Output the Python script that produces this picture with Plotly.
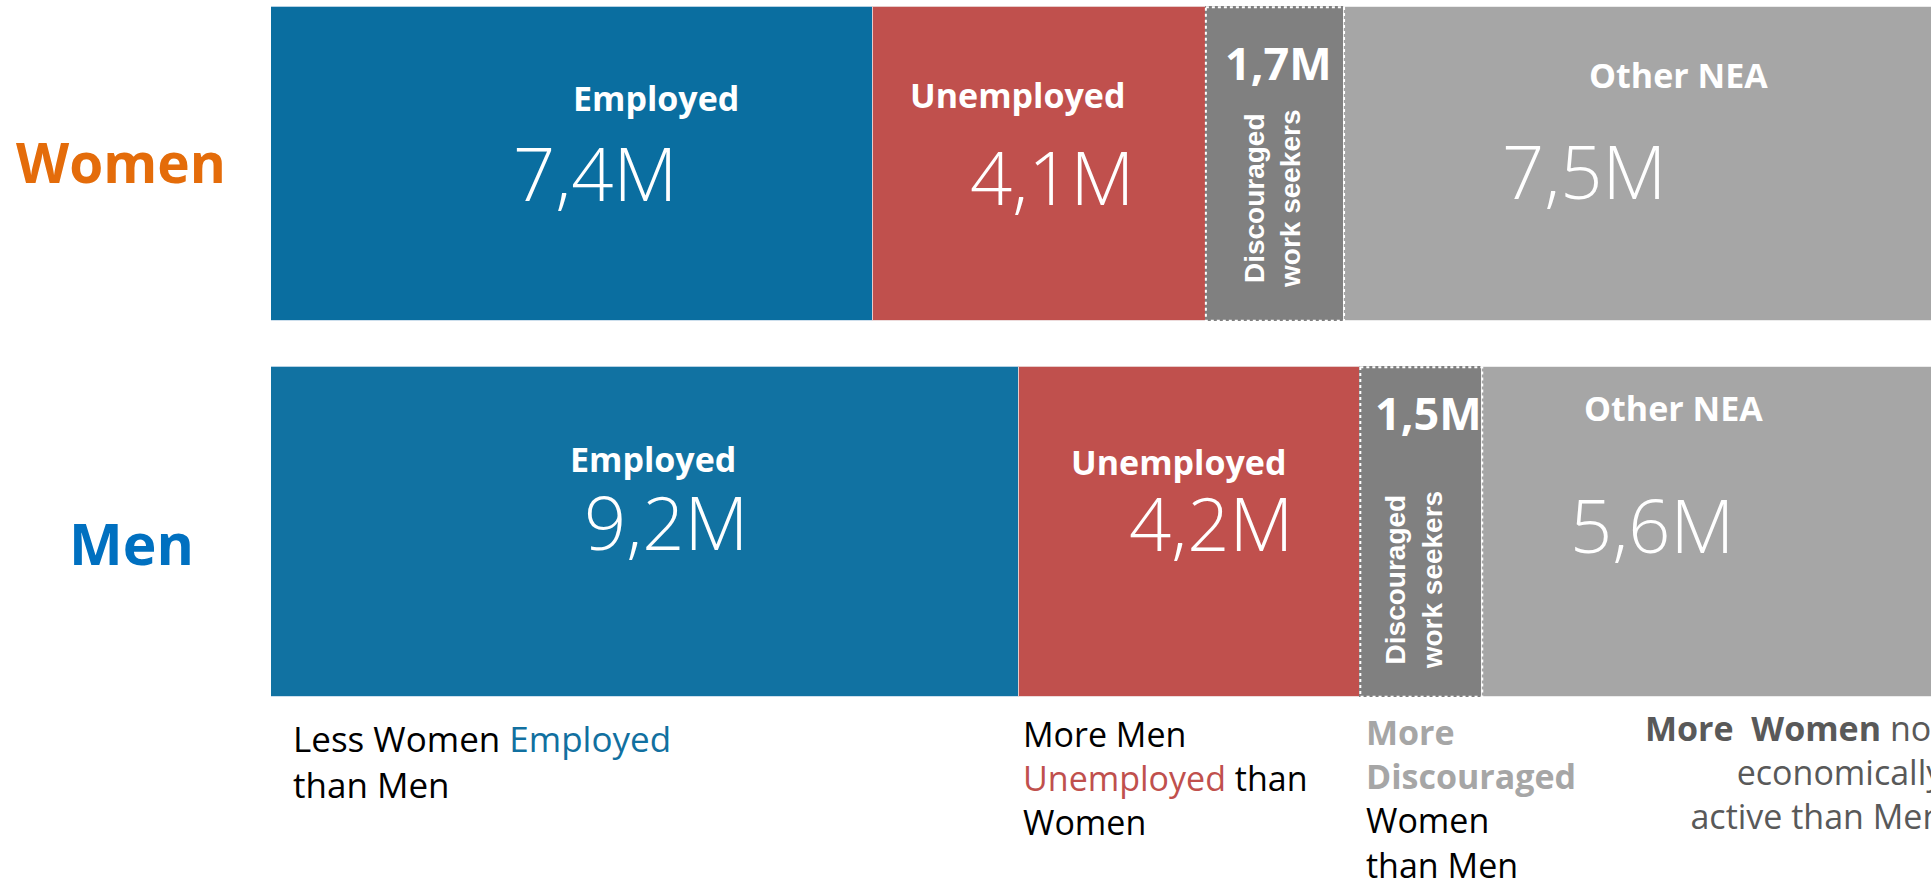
import plotly.graph_objects as go

# ---------------- data ----------------
genders = ["Women", "Men"]
categories = ["Employed", "Unemployed", "Discouraged work seekers", "Other NEA"]
employed = [7.4, 9.2]
unemployed = [4.1, 4.2]
discouraged = [1.7, 1.5]
other_nea = [7.5, 5.6]
value_labels = {
    "Employed": ["7,4M", "9,2M"],
    "Unemployed": ["4,1M", "4,2M"],
    "Discouraged work seekers": ["1,7M", "1,5M"],
    "Other NEA": ["7,5M", "5,6M"],
}
series = [employed, unemployed, discouraged, other_nea]

# ---------------- layout constants ----------------
W, H = 1931, 879
L = 271
XMAX = 20.42
ROW_POS = [0, 1]
BAR_W = [0.852, 0.895]
Y_RANGE = [1.9429, -0.4457]

colors = {
    "Employed": ["#0A6EA0", "#1172A2"],
    "Unemployed": ["#C0504D", "#C0504D"],
    "Discouraged work seekers": ["#808080", "#808080"],
    "Other NEA": ["#A6A6A6", "#A6A6A6"],
}
edge = {
    "Employed": "rgba(200,220,235,0.9)",
    "Unemployed": "rgba(235,215,215,0.9)",
    "Discouraged work seekers": "rgba(128,128,128,1)",
    "Other NEA": "rgba(235,235,235,1)",
}

FONT = "Open Sans"
ARIAL = "Liberation Sans, Arial"


def px_x(px):
    return (px - L) / (W - L)


def px_y(py):
    return 1 - py / H


fig = go.Figure()
for cat, vals in zip(categories, series):
    fig.add_trace(go.Bar(
        name=cat, y=ROW_POS, x=vals, orientation="h", width=BAR_W,
        marker=dict(color=colors[cat], line=dict(color=edge[cat], width=1.5)),
        hoverinfo="x+name", showlegend=False,
    ))

# cumulative starts
starts = []
acc = [0.0, 0.0]
for vals in series:
    starts.append(list(acc))
    acc = [a + v for a, v in zip(acc, vals)]
totals = acc

# dotted outline around discouraged segments
shapes = []
for g in range(2):
    s = starts[2][g]
    e = s + discouraged[g]
    shapes.append(dict(type="rect", xref="x", yref="y", x0=s, x1=e,
                       y0=ROW_POS[g] - BAR_W[g] / 2, y1=ROW_POS[g] + BAR_W[g] / 2,
                       line=dict(color="white", width=2, dash="dot"), layer="above"))

# label offsets (xshift, yshift) relative to segment centre
name_off = {
    "Employed": [(84, 66), (8, 73)],
    "Unemployed": [(-22, 69), (-11, 70)],
    "Other NEA": [(30, 89), (-36, 124)],
}
val_off = {
    "Employed": [(23, -8), (21, 11)],
    "Unemployed": [(13, -12), (21, 10)],
    "Discouraged work seekers": [(4, 102), (7, 120)],
    "Other NEA": [(-65, -6), (-58, 8)],
}
disc_off = [(-3, -35), (-8, -48)]

ann = []
for ci, cat in enumerate(categories):
    for g in range(2):
        cx = starts[ci][g] + series[ci][g] / 2
        if cat in name_off:
            dx, dy = name_off[cat][g]
            ann.append(dict(x=cx, y=ROW_POS[g], xref="x", yref="y", text=cat,
                            showarrow=False, xshift=dx, yshift=dy,
                            xanchor="center", yanchor="middle",
                            font=dict(family=FONT, size=34, color="white", weight=700)))
        dx, dy = val_off[cat][g]
        if cat == "Discouraged work seekers":
            ann.append(dict(x=cx, y=ROW_POS[g], xref="x", yref="y", text=value_labels[cat][g],
                            showarrow=False, xshift=dx, yshift=dy,
                            xanchor="center", yanchor="middle",
                            font=dict(family=FONT, size=45, color="white", weight=700)))
            ddx, ddy = disc_off[g]
            ann.append(dict(x=cx, y=ROW_POS[g], xref="x", yref="y",
                            text="Discouraged<br>work seekers", textangle=-90,
                            showarrow=False, xshift=ddx, yshift=ddy,
                            xanchor="center", yanchor="middle",
                            font=dict(family=ARIAL, size=28, color="white", weight=700)))
        else:
            ann.append(dict(x=cx, y=ROW_POS[g], xref="x", yref="y", text=value_labels[cat][g],
                            showarrow=False, xshift=dx, yshift=dy,
                            xanchor="center", yanchor="middle",
                            font=dict(family=FONT, size=74, color="white", weight=300)))

# row labels
ann.append(dict(x=px_x(121), y=px_y(161), xref="paper", yref="paper", text="<b>Women</b>",
                xanchor="center", yanchor="middle",
                showarrow=False, font=dict(family=FONT, size=55, color="#E46C0A")))
ann.append(dict(x=px_x(131), y=px_y(543), xref="paper", yref="paper", text="<b>Men</b>",
                xanchor="center", yanchor="middle",
                showarrow=False, font=dict(family=FONT, size=57, color="#0070C0")))

# bottom comparison notes (anchored to the men's segment starts)
BT = 34
note_top = 709
ann.append(dict(x=starts[0][1], xshift=20, y=px_y(note_top + 4), xref="x", yref="paper",
                xanchor="left", yanchor="top", align="left", showarrow=False,
                text="Less Women <span style='color:#1170A0'>Employed</span><br>than Men",
                font=dict(family=FONT, size=35, color="black")))
ann.append(dict(x=starts[1][1], xshift=2, y=px_y(note_top), xref="x", yref="paper",
                xanchor="left", yanchor="top", align="left", showarrow=False,
                text="More Men<br><span style='color:#C0504D'>Unemployed</span> than<br>Women",
                font=dict(family=FONT, size=BT, color="black")))
ann.append(dict(x=starts[2][1], xshift=4, y=px_y(note_top - 2), xref="x", yref="paper",
                xanchor="left", yanchor="top", align="left", showarrow=False,
                text="<b>More</b><br><b>Discouraged</b><br><span style='color:black'>Women<br>than Men</span>",
                font=dict(family=FONT, size=BT, color="#A6A6A6")))
ann.append(dict(x=px_x(L + totals[1] * (W - L) / XMAX + 8), y=px_y(note_top - 6),
                xref="paper", yref="paper",
                xanchor="right", yanchor="top", align="right", showarrow=False,
                text="<b>More  Women</b> not<br>economically<br>active than Men",
                font=dict(family=FONT, size=BT, color="#595959")))

fig.update_layout(
    width=W, height=H, barmode="stack", bargap=0,
    margin=dict(l=L, r=0, t=0, b=0),
    paper_bgcolor="white", plot_bgcolor="white",
    xaxis=dict(range=[0, XMAX], visible=False, fixedrange=True),
    yaxis=dict(range=Y_RANGE, visible=False, fixedrange=True),
    annotations=ann, shapes=shapes,
)
fig.write_html("out.html", config={"displayModeBar": False},
               post_script="document.body.style.margin='0';document.body.style.overflow='hidden';")
